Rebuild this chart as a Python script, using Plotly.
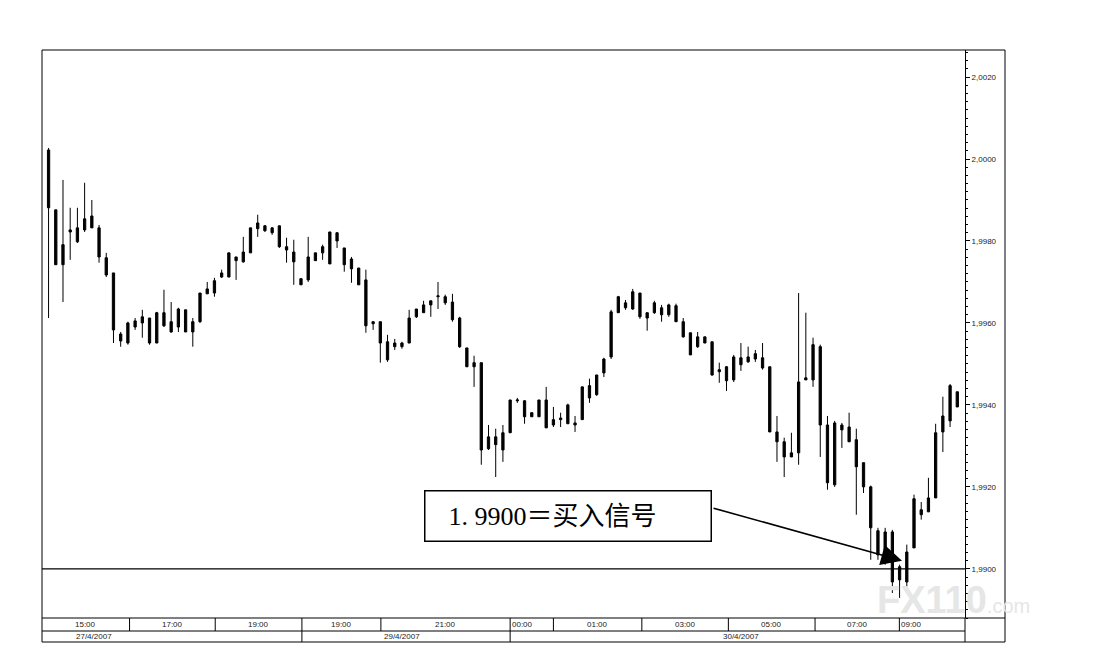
import plotly.graph_objects as go

# ---------------- data ----------------
candle_index = list(range(127))

open_ = [2.00022, 1.99876, 1.99742, 1.99822, 1.99798, 1.99827, 1.99861, 1.99832, 1.99759, 1.99722,
         1.99573, 1.99551, 1.99590, 1.99600, 1.99612, 1.99551, 1.99625, 1.99578, 1.99590, 1.99632,
         1.99578, 1.99603, 1.99671, 1.99673, 1.99712, 1.99712, 1.99761, 1.99749, 1.99771, 1.99830,
         1.99837, 1.99832, 1.99837, 1.99786, 1.99773, 1.99708, 1.99705, 1.99752, 1.99771, 1.99744,
         1.99820, 1.99783, 1.99756, 1.99734, 1.99705, 1.99603, 1.99603, 1.99554, 1.99542, 1.99542,
         1.99551, 1.99615, 1.99625, 1.99644, 1.99664, 1.99664, 1.99651, 1.99612, 1.99539, 1.99503,
         1.99503, 1.99293, 1.99322, 1.99290, 1.99332, 1.99410, 1.99410, 1.99371, 1.99371, 1.99412,
         1.99351, 1.99364, 1.99354, 1.99356, 1.99364, 1.99417, 1.99425, 1.99478, 1.99517, 1.99625,
         1.99649, 1.99634, 1.99673, 1.99625, 1.99625, 1.99637, 1.99620, 1.99642, 1.99603, 1.99576,
         1.99542, 1.99566, 1.99554, 1.99486, 1.99493, 1.99461, 1.99498, 1.99517, 1.99512, 1.99515,
         1.99493, 1.99334, 1.99310, 1.99273, 1.99283, 1.99466, 1.99461, 1.99542, 1.99351, 1.99205,
         1.99339, 1.99346, 1.99315, 1.99259, 1.99200, 1.99093, 1.99034, 1.99090, 1.98973, 1.98968,
         1.99051, 1.99132, 1.99139, 1.99173, 1.99334, 1.99361, 1.99432]

high = [2.00027, 1.99876, 1.99949, 1.99881, 1.99881, 1.99942, 1.99900, 1.99839, 1.99771, 1.99722,
        1.99578, 1.99603, 1.99612, 1.99632, 1.99612, 1.99627, 1.99681, 1.99651, 1.99637, 1.99632,
        1.99612, 1.99673, 1.99700, 1.99710, 1.99730, 1.99771, 1.99761, 1.99810, 1.99832, 1.99864,
        1.99839, 1.99834, 1.99837, 1.99808, 1.99803, 1.99708, 1.99810, 1.99771, 1.99791, 1.99822,
        1.99822, 1.99783, 1.99761, 1.99734, 1.99730, 1.99603, 1.99603, 1.99571, 1.99561, 1.99554,
        1.99632, 1.99634, 1.99654, 1.99654, 1.99700, 1.99669, 1.99671, 1.99615, 1.99539, 1.99520,
        1.99503, 1.99351, 1.99342, 1.99351, 1.99412, 1.99417, 1.99412, 1.99381, 1.99412, 1.99444,
        1.99395, 1.99381, 1.99403, 1.99373, 1.99444, 1.99464, 1.99473, 1.99515, 1.99632, 1.99666,
        1.99656, 1.99683, 1.99673, 1.99625, 1.99654, 1.99644, 1.99647, 1.99647, 1.99612, 1.99576,
        1.99578, 1.99566, 1.99554, 1.99503, 1.99495, 1.99522, 1.99551, 1.99542, 1.99534, 1.99551,
        1.99493, 1.99373, 1.99320, 1.99332, 1.99673, 1.99625, 1.99564, 1.99547, 1.99373, 1.99361,
        1.99356, 1.99381, 1.99342, 1.99259, 1.99203, 1.99100, 1.99100, 1.99095, 1.99010, 1.99059,
        1.99181, 1.99163, 1.99222, 1.99354, 1.99420, 1.99451, 1.99432]

low = [1.99612, 1.99742, 1.99651, 1.99754, 1.99795, 1.99822, 1.99832, 1.99747, 1.99712, 1.99551,
       1.99542, 1.99547, 1.99583, 1.99564, 1.99547, 1.99551, 1.99590, 1.99576, 1.99578, 1.99578,
       1.99542, 1.99600, 1.99671, 1.99664, 1.99710, 1.99712, 1.99705, 1.99747, 1.99771, 1.99810,
       1.99822, 1.99815, 1.99783, 1.99747, 1.99693, 1.99693, 1.99700, 1.99752, 1.99754, 1.99744,
       1.99783, 1.99725, 1.99698, 1.99693, 1.99576, 1.99583, 1.99503, 1.99505, 1.99534, 1.99537,
       1.99551, 1.99612, 1.99625, 1.99615, 1.99634, 1.99644, 1.99603, 1.99539, 1.99493, 1.99444,
       1.99254, 1.99290, 1.99224, 1.99261, 1.99332, 1.99405, 1.99354, 1.99371, 1.99371, 1.99344,
       1.99346, 1.99346, 1.99354, 1.99334, 1.99364, 1.99405, 1.99422, 1.99468, 1.99512, 1.99625,
       1.99632, 1.99632, 1.99610, 1.99581, 1.99622, 1.99603, 1.99615, 1.99603, 1.99564, 1.99522,
       1.99539, 1.99551, 1.99471, 1.99454, 1.99434, 1.99456, 1.99483, 1.99503, 1.99505, 1.99486,
       1.99334, 1.99261, 1.99224, 1.99273, 1.99254, 1.99461, 1.99444, 1.99273, 1.99193, 1.99200,
       1.99295, 1.99310, 1.99132, 1.99185, 1.99022, 1.99022, 1.99010, 1.98941, 1.98929, 1.98956,
       1.99051, 1.99120, 1.99139, 1.99173, 1.99285, 1.99346, 1.99395]

close = [1.99881, 1.99742, 1.99791, 1.99827, 1.99832, 1.99854, 1.99832, 1.99761, 1.99717, 1.99583,
         1.99556, 1.99600, 1.99605, 1.99615, 1.99551, 1.99625, 1.99593, 1.99603, 1.99634, 1.99578,
         1.99603, 1.99673, 1.99683, 1.99703, 1.99722, 1.99771, 1.99752, 1.99773, 1.99832, 1.99844,
         1.99825, 1.99820, 1.99786, 1.99778, 1.99749, 1.99693, 1.99761, 1.99771, 1.99786, 1.99822,
         1.99800, 1.99742, 1.99732, 1.99693, 1.99593, 1.99598, 1.99551, 1.99510, 1.99551, 1.99551,
         1.99612, 1.99634, 1.99644, 1.99654, 1.99666, 1.99649, 1.99608, 1.99542, 1.99493, 1.99493,
         1.99290, 1.99322, 1.99303, 1.99332, 1.99412, 1.99412, 1.99371, 1.99381, 1.99412, 1.99344,
         1.99364, 1.99368, 1.99400, 1.99351, 1.99444, 1.99447, 1.99473, 1.99512, 1.99627, 1.99664,
         1.99637, 1.99676, 1.99615, 1.99612, 1.99649, 1.99620, 1.99644, 1.99603, 1.99566, 1.99522,
         1.99566, 1.99551, 1.99473, 1.99481, 1.99459, 1.99517, 1.99515, 1.99505, 1.99525, 1.99490,
         1.99334, 1.99310, 1.99273, 1.99283, 1.99456, 1.99461, 1.99547, 1.99351, 1.99210, 1.99356,
         1.99351, 1.99310, 1.99249, 1.99200, 1.99100, 1.99034, 1.99090, 1.98968, 1.99005, 1.99041,
         1.99171, 1.99144, 1.99173, 1.99332, 1.99373, 1.99447, 1.99395]

# price axis ticks
price_ticks = [1.9900, 1.9920, 1.9940, 1.9960, 1.9980, 2.0000, 2.0020]
price_tick_text = ["1,9900", "1,9920", "1,9940", "1,9960", "1,9980", "2,0000", "2,0020"]
price_range = [1.98880, 2.00266]

# time axis (candle-index units)
x_range = [-0.91, 127.07]
time_bounds = [-0.91, 11.23, 23.11, 35.13, 46.08, 64.0, 70.0, 82.26, 94.26, 106.28, 117.97, 127.07]
time_labels = ["15:00", "17:00", "19:00", "19:00", "21:00", "00:00", "01:00", "03:00", "05:00", "07:00", "09:00"]
time_label_pos = [5.16, 17.17, 29.12, 40.6, 55.04, 65.66, 76.13, 88.26, 100.27, 112.13, 119.6]
date_bounds = [-0.91, 35.13, 64.0, 127.07]
date_labels = ["27/4/2007", "29/4/2007", "30/4/2007"]
date_label_pos = [6.33, 49.0, 95.95]

signal_level = 1.9900
signal_text = "1. 9900＝买入信号"
arrow_tip = (118.34, 1.99020)
arrow_tail = (92.0, 1.99149)
box_center = (72.04, 1.99128)

# ---------------- figure ----------------
fig = go.Figure()
fig.add_trace(go.Candlestick(
    x=candle_index, open=open_, high=high, low=low, close=close,
    increasing=dict(line=dict(color="black", width=1), fillcolor="black"),
    decreasing=dict(line=dict(color="black", width=1), fillcolor="black"),
    whiskerwidth=0, hoverinfo="skip", showlegend=False,
))

# page body has an 8px margin, so the figure is 16px smaller than the window
W, H = 1080, 652
L_M, R_M, T_M, B_M = 34, 123, 42, 42
plot_h = H - T_M - B_M
plot_w = W - L_M - R_M
ROW1_BOT = -13 / plot_h
ROW2_BOT = -24 / plot_h
FRAME_R = 1 + 40 / plot_w

shapes = []
shapes.append(dict(type="rect", xref="paper", yref="paper", x0=0, x1=FRAME_R, y0=ROW2_BOT, y1=1,
                   line=dict(color="black", width=1)))
shapes.append(dict(type="line", xref="paper", yref="paper", x0=0, x1=FRAME_R, y0=0, y1=0,
                   line=dict(color="black", width=1)))
shapes.append(dict(type="line", xref="paper", yref="paper", x0=0, x1=1, y0=ROW1_BOT, y1=ROW1_BOT,
                   line=dict(color="black", width=1)))
shapes.append(dict(type="line", xref="paper", yref="paper", x0=1, x1=1, y0=ROW2_BOT, y1=0,
                   line=dict(color="black", width=1)))
for b in time_bounds[1:-1]:
    shapes.append(dict(type="line", xref="x", yref="paper", x0=b, x1=b, y0=ROW1_BOT, y1=0,
                       line=dict(color="black", width=1)))
for b in date_bounds[1:-1]:
    shapes.append(dict(type="line", xref="x", yref="paper", x0=b, x1=b, y0=ROW2_BOT, y1=ROW1_BOT,
                       line=dict(color="black", width=1)))
shapes.append(dict(type="line", xref="paper", yref="y", x0=0, x1=1, y0=signal_level, y1=signal_level,
                   line=dict(color="black", width=1.3)))

annotations = []
lab_font = dict(family="Liberation Sans, Arial, sans-serif", size=8, color="#222")
for t, p in zip(time_labels, time_label_pos):
    annotations.append(dict(x=p, y=(ROW1_BOT) / 2, xref="x", yref="paper", text=t, showarrow=False,
                            xanchor="center", yanchor="middle", font=lab_font))
for t, p in zip(date_labels, date_label_pos):
    annotations.append(dict(x=p, y=(ROW1_BOT + ROW2_BOT) / 2, xref="x", yref="paper", text=t,
                            showarrow=False, xanchor="center", yanchor="middle", font=lab_font))

# watermark
annotations.append(dict(x=(867 - L_M) / plot_w, y=(T_M + plot_h - 592) / plot_h, xref="paper", yref="paper",
                        text="<b>FX110</b><span style='font-size:20px'>.com</span>", showarrow=False,
                        xanchor="left", yanchor="middle",
                        font=dict(family="Liberation Sans, Arial, sans-serif", size=38, color="#e6e6e6")))

# signal arrow
annotations.append(dict(x=arrow_tip[0], y=arrow_tip[1], xref="x", yref="y",
                        ax=arrow_tail[0], ay=arrow_tail[1], axref="x", ayref="y",
                        text="", showarrow=True, arrowhead=2, arrowsize=2.6, arrowwidth=1.6,
                        arrowcolor="black", standoff=0))
# signal text box
annotations.append(dict(x=box_center[0], y=box_center[1], xref="x", yref="y",
                        text="\u00a0\u00a0" + signal_text, showarrow=False,
                        xanchor="center", yanchor="middle", align="left",
                        width=265, borderpad=10, bordercolor="black", borderwidth=1.5, bgcolor="white",
                        font=dict(family="Liberation Serif, Noto Sans CJK SC, serif", size=26, color="black")))

fig.update_layout(
    width=W, height=H,
    margin=dict(l=L_M, r=R_M, t=T_M, b=B_M),
    paper_bgcolor="white", plot_bgcolor="white",
    boxgap=0.55,
    showlegend=False,
    hovermode=False,
    shapes=shapes,
    annotations=annotations,
    xaxis=dict(range=x_range, showgrid=False, zeroline=False, showticklabels=False, ticks="",
               rangeslider=dict(visible=False), showline=False, fixedrange=True),
    yaxis=dict(range=price_range, side="right", showgrid=False, zeroline=False,
               tickvals=price_ticks, ticktext=price_tick_text, ticks="outside", ticklen=4,
               tickcolor="black", showline=True, linecolor="black", linewidth=1,
               tickfont=dict(family="Liberation Sans, Arial, sans-serif", size=8, color="#222"),
               minor=dict(tick0=1.99, dtick=0.0002, ticks="outside", ticklen=2, tickcolor="black"),
               fixedrange=True),
)

fig.write_html("out.html")
